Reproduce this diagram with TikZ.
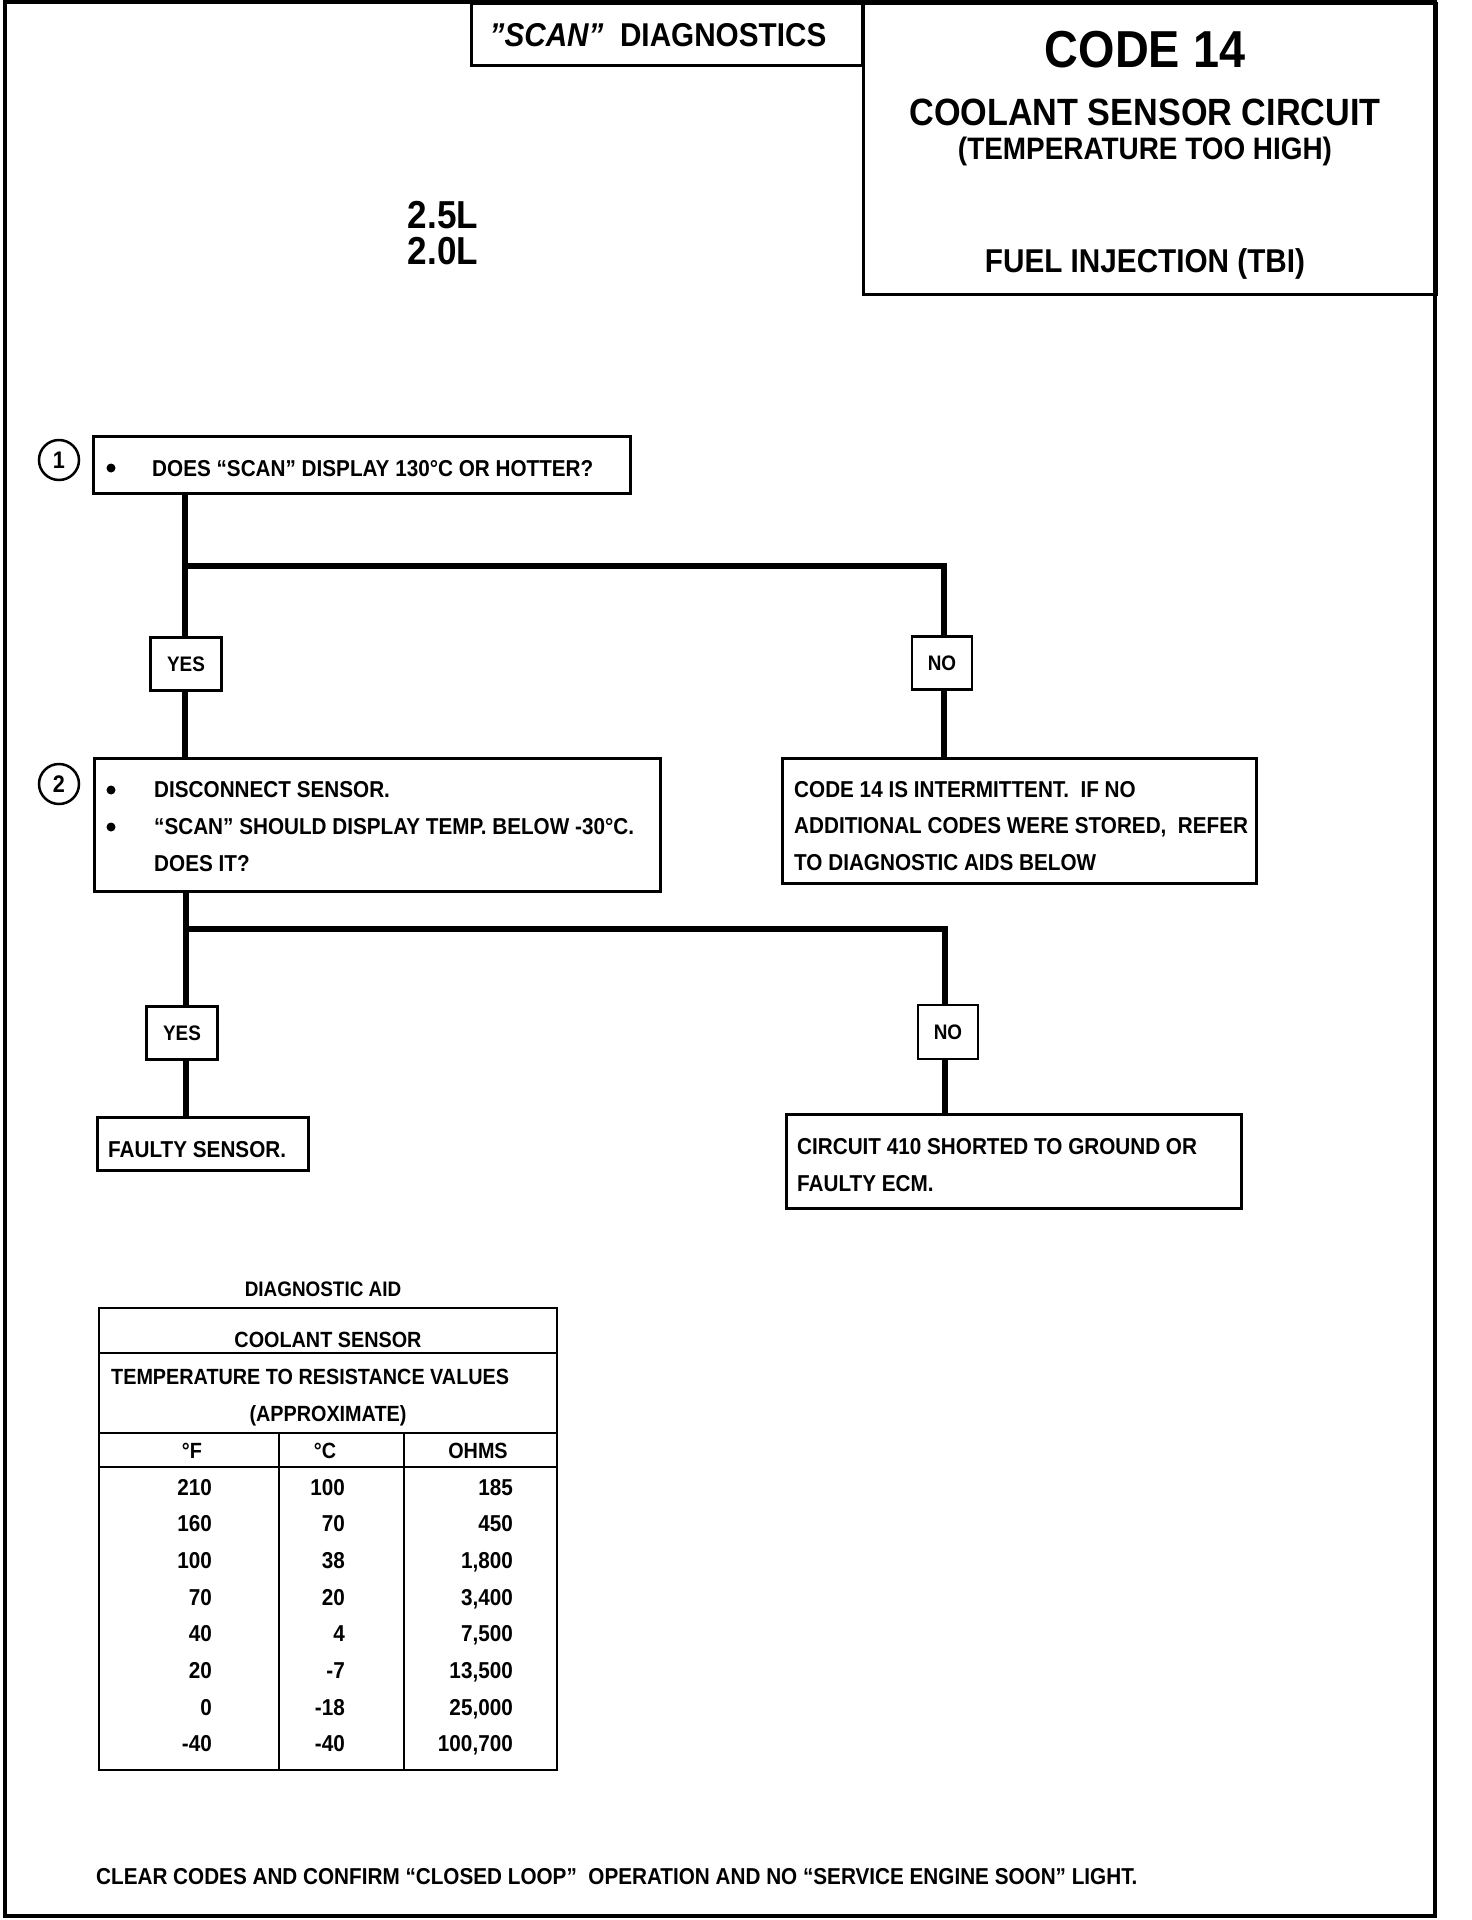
\documentclass[tikz,border=0pt]{standalone}
\usepackage{fontspec}
\setmainfont{Liberation Sans}[FakeStretch=0.9]
\begin{document}
\begin{tikzpicture}[x=1pt,y=-1pt,
  fs/.style={font=\bfseries\fontsize{#1}{#1}\selectfont},
  txt/.style={inner sep=0, anchor=base west, fs=23},
  ctxt/.style={inner sep=0, anchor=base, fs=23},
  rtxt/.style={inner sep=0, anchor=base east, fs=23},
  box/.style={draw, line width=2.5pt, inner sep=0, anchor=north west},
  lbl/.style={draw, fill=white, line width=2.5pt, inner sep=0, fs=21},
  conn/.style={line width=6pt, line join=miter},
  num/.style={draw, circle, line width=2.5pt, minimum size=40pt, inner sep=0, fs=24},
  dot/.style={fill, circle, inner sep=0, minimum size=9pt},
  tline/.style={line width=2.5pt}
]
\useasboundingbox (0,0) rectangle (1472,1920);
% outer frame
\draw[line width=4pt] (5,2) rectangle (1435,1916);
% title boxes
\node[box, minimum width=391pt, minimum height=62pt] (scan) at (470,2) {};
\node[ctxt, fs=33] (scantxt) at (658,46) {\textit{"SCAN"}\ \ DIAGNOSTICS};
\node[box, minimum width=573pt, minimum height=291pt] (code) at (862,2) {};
\node[ctxt, fs=52] (t1) at (1145,67) {CODE 14};
\node[ctxt, fs=38] (t2) at (1145,125) {COOLANT SENSOR CIRCUIT};
\node[ctxt, fs=31] (t3) at (1145,159) {(TEMPERATURE TOO HIGH)};
\node[ctxt, fs=33] (t4) at (1145,272) {FUEL INJECTION (TBI)};
\node[ctxt, fs=39] (e1) at (443,228) {2.5L};
\node[ctxt, fs=39] (e2) at (443,264) {2.0L};
% step 1
\node[num] (n1) at (59,460) {1};
\node[box, minimum width=537pt, minimum height=57pt] (b1) at (92,435) {};
\node[dot] (d1) at (111,468) {};
\node[txt] (b1t) at (152,476) {DOES “SCAN” DISPLAY 130°C OR HOTTER?};
% step 2
\node[num] (n2) at (59,784) {2};
\node[box, minimum width=566pt, minimum height=133pt] (b2) at (93,757) {};
\node[dot] (d2) at (111,790) {};
\node[dot] (d3) at (111,827) {};
\node[txt] (b2a) at (154,797) {DISCONNECT SENSOR.};
\node[txt] (b2b) at (154,834) {“SCAN” SHOULD DISPLAY TEMP. BELOW -30°C.};
\node[txt] (b2c) at (154,871) {DOES IT?};
% right result 1
\node[box, minimum width=474pt, minimum height=125pt] (r1) at (781,757) {};
\node[txt] (r1a) at (794,797) {CODE 14 IS INTERMITTENT.\ \ IF NO};
\node[txt] (r1b) at (794,833) {ADDITIONAL CODES WERE STORED,\ \ REFER};
\node[txt] (r1c) at (794,870) {TO DIAGNOSTIC AIDS BELOW};
% results 2
\node[box, minimum width=211pt, minimum height=53pt] (fsb) at (96,1116) {};
\node[txt] (fst) at (108,1157) {FAULTY SENSOR.};
\node[box, minimum width=455pt, minimum height=94pt] (c4) at (785,1113) {};
\node[txt] (c4a) at (797,1154) {CIRCUIT 410 SHORTED TO GROUND OR};
\node[txt] (c4b) at (797,1191) {FAULTY ECM.};
% connectors
\coordinate (j1) at (185,566);
\coordinate (k1) at (944,566);
\coordinate (j2) at (186,929);
\coordinate (k2) at (945,929);
\draw[conn] (b1.south -| j1) -- (b2.north -| j1);
\draw[conn] (j1) -- (k1) -- (r1.north -| k1);
\draw[conn] (b2.south -| j2) -- (fsb.north -| j2);
\draw[conn] (j2) -- (k2) -- (c4.north -| k2);
\node[lbl, minimum width=71pt, minimum height=53pt] (yes1) at (186,664) {YES};
\node[lbl, minimum width=60pt, minimum height=53pt] (no1) at (942,663) {NO};
\node[lbl, minimum width=71pt, minimum height=53pt] (yes2) at (182,1033) {YES};
\node[lbl, minimum width=60pt, minimum height=54pt] (no2) at (948,1032) {NO};
% diagnostic aid table
\node[ctxt, fs=21] (da) at (323,1296) {DIAGNOSTIC AID};
\draw[tline] (99,1308) rectangle (557,1770);
\draw[tline] (99,1353) -- (557,1353);
\draw[tline] (99,1433) -- (557,1433);
\draw[tline] (99,1467) -- (557,1467);
\draw[tline] (279,1433) -- (279,1770);
\draw[tline] (404,1433) -- (404,1770);
\node[ctxt, fs=22] (tc) at (328,1347) {COOLANT SENSOR};
\node[txt, fs=22] (tt) at (111,1384) {TEMPERATURE TO RESISTANCE VALUES};
\node[ctxt, fs=22] (ta) at (328,1421) {(APPROXIMATE)};
\node[ctxt, fs=22] (hf) at (192,1458) {°F};
\node[ctxt, fs=22] (hc) at (325,1458) {°C};
\node[ctxt, fs=22] (ho) at (478,1458) {OHMS};
\foreach \f/\c/\o [count=\i from 0] in {210/100/185, 160/70/450, 100/38/{1,800}, 70/20/{3,400}, 40/4/{7,500}, 20/-7/{13,500}, 0/-18/{25,000}, -40/-40/{100,700}} {
  \node[rtxt, fs=23] (f\i) at (212,1495+36.7*\i) {\f};
  \node[rtxt, fs=23] (c\i) at (345,1495+36.7*\i) {\c};
  \node[rtxt, fs=23] (o\i) at (513,1495+36.7*\i) {\o};
}
% footer
\node[txt] (foot) at (96,1884) {CLEAR CODES AND CONFIRM “CLOSED LOOP”\ \ OPERATION AND NO “SERVICE ENGINE SOON” LIGHT.};
\end{tikzpicture}
\end{document}
